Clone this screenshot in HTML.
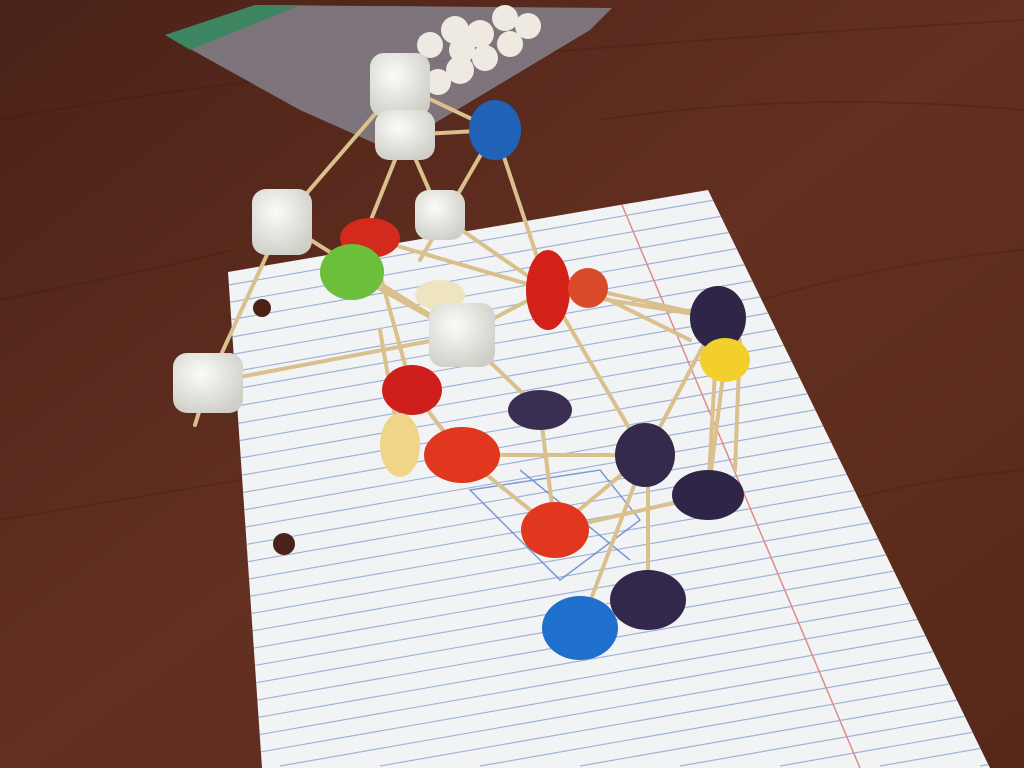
<!DOCTYPE html>
<html><head><meta charset="utf-8"><style>
html,body{margin:0;padding:0;width:1024px;height:768px;overflow:hidden;background:#5b2a1d}
svg{display:block;position:fixed;left:0;top:0;overflow:hidden}
</style></head><body>
<svg width="1024" height="768" viewBox="0 0 1024 768">
<defs>
<linearGradient id="wood" x1="0" y1="0" x2="1" y2="1">
<stop offset="0" stop-color="#4a2217"/><stop offset="0.5" stop-color="#633021"/><stop offset="1" stop-color="#552819"/>
</linearGradient>
<clipPath id="paperclip"><polygon points="228,272 708,190 990,768 262,768"/></clipPath>
<radialGradient id="mm" cx="0.4" cy="0.35" r="0.7"><stop offset="0" stop-color="#fbfbf8"/><stop offset="1" stop-color="#cfcfc8"/></radialGradient>
</defs>
<rect width="1024" height="768" fill="url(#wood)"/>
<g opacity="0.25" stroke="#3a150c" stroke-width="2">
<path d="M0 120 Q300 60 1024 20" fill="none"/><path d="M0 300 Q200 260 230 250" fill="none"/>
<path d="M0 520 Q120 500 240 480" fill="none"/><path d="M760 300 Q900 260 1024 250" fill="none"/>
<path d="M780 520 Q900 480 1024 470" fill="none"/><path d="M600 120 Q800 90 1024 110" fill="none"/>
</g>
<polygon points="165,35 255,5 612,8 590,30 390,150 300,110" fill="#9aa6bd" opacity="0.6"/>
<polygon points="165,35 255,5 300,5 190,50" fill="#2c8a5a" opacity="0.8"/>
<g fill="#eeeae2">
<circle cx="455" cy="30" r="14"/><circle cx="480" cy="34" r="14"/><circle cx="505" cy="18" r="13"/><circle cx="528" cy="26" r="13"/><circle cx="510" cy="44" r="13"/><circle cx="485" cy="58" r="13"/><circle cx="460" cy="70" r="14"/><circle cx="430" cy="45" r="13"/><circle cx="438" cy="82" r="13"/><circle cx="462" cy="50" r="13"/>
</g>
<polygon points="228,272 708,190 990,768 262,768" fill="#f2f3f5"/>
<g clip-path="url(#paperclip)">
<g stroke="#9fb3d6" stroke-width="1.2" id="lines"></g>
<line x1="622" y1="205" x2="860" y2="768" stroke="#e08a8a" stroke-width="1.5"/>
</g>
<circle cx="262" cy="308" r="9" fill="#4a2217"/>
<circle cx="284" cy="544" r="11" fill="#4a2217"/>
<g stroke="#5a84d0" stroke-width="1.5" fill="none" opacity="0.8">
<path d="M470 490 L560 580 L640 520 L600 470 Z"/><path d="M520 470 L630 560"/>
</g>
<g stroke="#d9c08c" stroke-width="4" stroke-linecap="round" id="picks"></g>
<g id="nodes"></g>
</svg>
<script>
const lineG=document.getElementById('lines');
const k=140/800;
for(let i=0;i<38;i++){
 const y0=290+i*17.5;
 let xs=200, ys=y0;
 if(ys>766){xs=200+(ys-766)/k; ys=766;}
 const xe=990, ye=y0-k*(xe-200);
 if(xs>=xe) continue;
 const l=document.createElementNS('http://www.w3.org/2000/svg','line');
 l.setAttribute('x1',xs);l.setAttribute('y1',ys);l.setAttribute('x2',xe);l.setAttribute('y2',Math.min(ye,766));
 
 
 lineG.appendChild(l);
}
const picks=[[400,85,282,222],[405,135,350,272],[400,85,495,130],[405,135,495,130],[495,130,548,290],[495,130,420,260],[282,222,208,383],[282,222,462,335],[208,383,462,335],[440,215,405,135],[440,215,548,290],[548,290,718,318],[585,288,718,318],[548,290,462,335],[548,290,645,455],[370,238,548,290],[462,335,540,410],[412,390,462,455],[462,455,645,455],[540,410,555,530],[645,455,718,318],[645,455,555,530],[708,495,725,360],[708,495,718,318],[555,530,708,495],[580,628,640,470],[648,600,648,470],[412,390,370,238],[400,445,380,330],[462,455,555,530],[350,272,462,335],[195,425,208,383],[585,288,690,340],[735,470,740,340]];
const pg=document.getElementById('picks');
picks.forEach(p=>{const l=document.createElementNS('http://www.w3.org/2000/svg','line');
l.setAttribute('x1',p[0]);l.setAttribute('y1',p[1]);l.setAttribute('x2',p[2]);l.setAttribute('y2',p[3]);


pg.appendChild(l);});
const mm=[[400,85,30,32],[405,135,30,25],[282,222,30,33],[440,215,25,25],[462,335,33,32],[208,383,35,30]];
const bears=[[495,130,'#1f62b8',26,30],[370,238,'#d42a1d',30,20],[352,272,'#6cbf3a',32,28],[548,290,'#d3211a',22,40],[588,288,'#d94a2a',20,20],[718,318,'#2f2547',28,32],[725,360,'#f2cf2a',25,22],[412,390,'#cf1f1c',30,25],[540,410,'#3a2f52',32,20],[400,445,'#efd48a',20,32],[462,455,'#e2371f',38,28],[645,455,'#35294c',30,32],[708,495,'#2f2647',36,25],[555,530,'#e2371f',34,28],[580,628,'#1f6fcc',38,32],[648,600,'#33274b',38,30],[440,295,'#eee4c0',25,15]];
const ng=document.getElementById('nodes');
bears.forEach(b=>{const e=document.createElementNS('http://www.w3.org/2000/svg','ellipse');
e.setAttribute('cx',b[0]);e.setAttribute('cy',b[1]);e.setAttribute('rx',b[3]);e.setAttribute('ry',b[4]);e.setAttribute('fill',b[2]);


ng.appendChild(e);});
mm.forEach(m=>{const e=document.createElementNS('http://www.w3.org/2000/svg','rect');
e.setAttribute('x',m[0]-m[2]);e.setAttribute('y',m[1]-m[3]);e.setAttribute('width',m[2]*2);e.setAttribute('height',m[3]*2);e.setAttribute('rx',14);e.setAttribute('fill','url(#mm)');


ng.appendChild(e);});
</script>
</body></html>
